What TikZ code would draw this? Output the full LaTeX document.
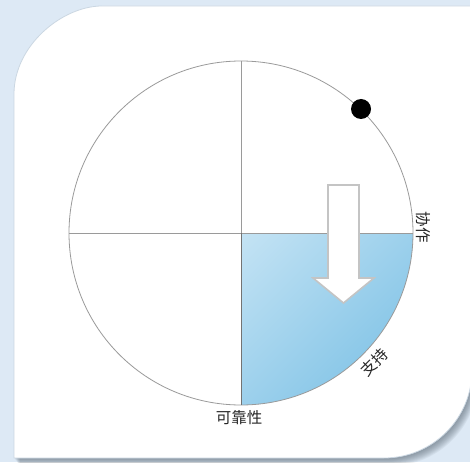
\documentclass[tikz,border=0pt]{standalone}
\usepackage{fontspec}
\usetikzlibrary{shadings}
\newfontfamily\cjk{Noto Sans CJK SC}
\definecolor{bgblue}{HTML}{DDE9F5}
\definecolor{panelline}{HTML}{CBD7E2}
\definecolor{gridgray}{HTML}{9A9A9A}
\definecolor{qA}{HTML}{C4E3F4}
\definecolor{qB}{HTML}{9CD0EC}
\definecolor{qC}{HTML}{74BDE3}
\definecolor{arrowgray}{HTML}{C4C4C4}
\definecolor{shadowc}{HTML}{4A5864}
\newcommand\panelshape[1]{\path[#1] (14,458) -- (14,94) .. controls (14,45.4) and (62.4,6) .. (102,6) -- (472,6) -- (472,370) .. controls (472,418.6) and (432.6,458) .. (384,458) -- cycle;}
\tikzset{
  lbl/.style={font=\cjk\fontsize{15.5}{16}\selectfont, inner sep=0pt, text=black!85},
  gridline/.style={draw=gridgray, line width=0.8pt},
}
\begin{document}
\begin{tikzpicture}[x=1pt,y=-1pt]
\useasboundingbox (0,0) rectangle (470,462);
\fill[bgblue] (0,0) rectangle (470,462);
% shadow
\foreach \s in {1,...,10} {\panelshape{fill=shadowc, fill opacity=0.07, shift={(\s*0.6,\s*0.8)}}}
% panel
\panelshape{fill=white, draw=panelline, line width=0.8pt}
% shaded quadrant
\begin{scope}
  \clip (241,233) circle[radius=172pt];
  \shade[upper left=qA, upper right=qB, lower left=qB, lower right=qC] (241,233) rectangle (413,405);
\end{scope}
% circle and cross
\draw[gridline] (241,233) circle[radius=172pt];
\coordinate (c) at (241,233);
\coordinate (top) at (241,61);
\coordinate (bot) at (241,405);
\coordinate (lft) at (69,233);
\coordinate (rgt) at (413,233);
\draw[gridline] (top) -- (bot);
\draw[gridline] (lft) -- (rgt);
\draw[draw=black!55, line width=1pt] (c) -- (bot);
% dot
\fill[black] (361,109) circle[radius=10pt];
% arrow
\draw[draw=arrowgray, fill=white, line width=1.6pt, line join=miter]
  (328,185) -- (359,185) -- (359,278) -- (374,278) -- (343.5,303) -- (313,278) -- (328,278) -- cycle;
% labels
\node[lbl, rotate=-90] (l1) at (423,227) {协作};
\node[lbl, rotate=45] (l2) at (374,362) {支持};
\node[lbl] (l3) at (239,418) {可靠性};
\end{tikzpicture}
\end{document}
